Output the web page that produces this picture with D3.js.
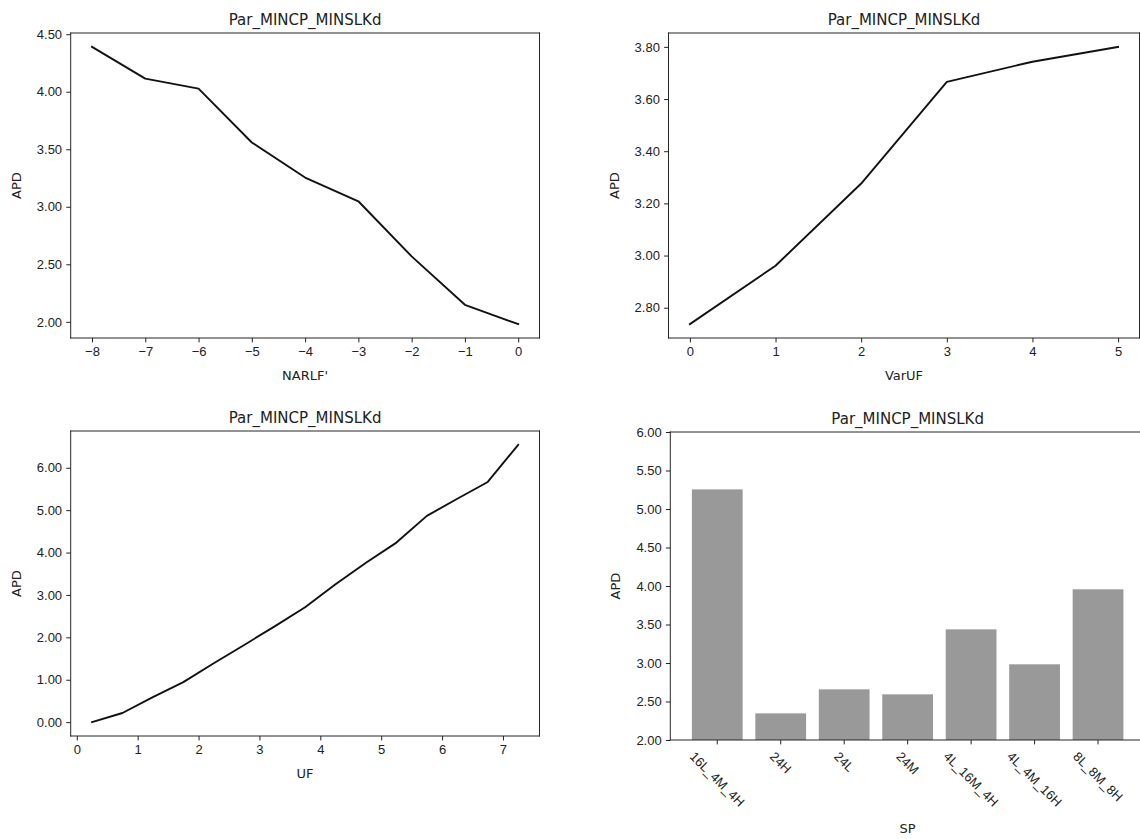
<!DOCTYPE html>
<html>
<head>
<meta charset="utf-8">
<script src="https://cdn.jsdelivr.net/npm/d3@7"></script>
<style>
  body { margin: 0; background: #fff; }
  svg { display: block; font-family: "DejaVu Sans", sans-serif; }
</style>
</head>
<body>
<svg id="fig" width="1140" height="839"></svg>
<script>
const chartTitle = "Par_MINCP_MINSLKd";
const yName = "APD";

// top left: NARLF'
const narlf = [-8, -7, -6, -5, -4, -3, -2, -1, 0];
const apdNarlf = [4.39, 4.114, 4.027, 3.559, 3.254, 3.048, 2.569, 2.148, 1.98];
const narlfTicks = [-8, -7, -6, -5, -4, -3, -2, -1, 0];
const narlfYTicks = [2.0, 2.5, 3.0, 3.5, 4.0, 4.5];

// top right: VarUF
const varuf = [0, 1, 2, 3, 4, 5];
const apdVaruf = [2.737, 2.961, 3.276, 3.666, 3.743, 3.80];
const varufTicks = [0, 1, 2, 3, 4, 5];
const varufYTicks = [2.8, 3.0, 3.2, 3.4, 3.6, 3.8];

// bottom left: UF
const uf = [0.25, 0.75, 1.25, 1.75, 2.25, 2.75, 3.25, 3.75, 4.25, 4.75, 5.25, 5.75, 6.25, 6.75, 7.25];
const apdUf = [0.0, 0.215, 0.59, 0.945, 1.39, 1.82, 2.26, 2.71, 3.25, 3.76, 4.235, 4.865, 5.27, 5.665, 6.54];
const ufTicks = [0, 1, 2, 3, 4, 5, 6, 7];
const ufYTicks = [0, 1, 2, 3, 4, 5, 6];

// bottom right: SP (bars)
const sp = ["16L_4M_4H", "24H", "24L", "24M", "4L_16M_4H", "4L_4M_16H", "8L_8M_8H"];
const apdSp = [5.255, 2.346, 2.658, 2.593, 3.437, 2.983, 3.957];
const spYTicks = [2.0, 2.5, 3.0, 3.5, 4.0, 4.5, 5.0, 5.5, 6.0];
const spYRange = [2, 6];

const svg = d3.select('#fig');
const fmt2 = d3.format('.2f');
const TICK = 4.4, PAD = 4.2;
const FS = 13;
const textColor = '#222';

// matplotlib style 5% margins
function withMargin(ext) {
  const m = (ext[1] - ext[0]) * 0.05;
  return [ext[0] - m, ext[1] + m];
}

function styleAxis(g) {
  g.select('.domain').remove();
  g.selectAll('.tick line').attr('stroke', textColor).attr('stroke-width', 1);
  g.selectAll('.tick text').attr('fill', textColor).style('font-size', FS + 'px');
}

function decorate(box, xName, bottomGap, spines) {
  const s = spines || ['top', 'right', 'bottom', 'left'];
  const seg = {
    top: [box.left, box.top, box.right, box.top],
    right: [box.right, box.top, box.right, box.bottom],
    bottom: [box.left, box.bottom, box.right, box.bottom],
    left: [box.left, box.top, box.left, box.bottom]
  };
  s.forEach(k => {
    const p = seg[k];
    svg.append('line')
      .attr('x1', p[0]).attr('y1', p[1]).attr('x2', p[2]).attr('y2', p[3])
      .attr('stroke', '#262626').attr('stroke-width', 1)
      .attr('stroke-linecap', 'square');
  });

  svg.append('text')
    .attr('x', (box.left + box.right) / 2).attr('y', box.top - 8)
    .attr('text-anchor', 'middle').attr('fill', textColor)
    .style('font-size', '15px').text(chartTitle);

  svg.append('text')
    .attr('x', (box.left + box.right) / 2).attr('y', box.bottom + bottomGap)
    .attr('text-anchor', 'middle').attr('fill', textColor)
    .style('font-size', FS + 'px').text(xName);

  const cy = (box.top + box.bottom) / 2;
  svg.append('text')
    .attr('transform', `translate(${box.left - 50},${cy}) rotate(-90)`)
    .attr('text-anchor', 'middle').attr('fill', textColor)
    .style('font-size', FS + 'px').text(yName);
}

function linePanel(box, xs, ys, xTicks, yTicks, xName) {
  const x = d3.scaleLinear().domain(withMargin(d3.extent(xs))).range([box.left, box.right]);
  const y = d3.scaleLinear().domain(withMargin(d3.extent(ys))).range([box.bottom, box.top]);

  const gx = svg.append('g').attr('transform', `translate(0,${box.bottom})`)
    .call(d3.axisBottom(x).tickValues(xTicks).tickSize(TICK).tickPadding(PAD).tickFormat(d3.format('d')));
  styleAxis(gx);

  const gy = svg.append('g').attr('transform', `translate(${box.left},0)`)
    .call(d3.axisLeft(y).tickValues(yTicks).tickSize(TICK).tickPadding(PAD).tickFormat(fmt2));
  styleAxis(gy);

  const pts = xs.map((d, i) => [d, ys[i]]);
  svg.append('path')
    .datum(pts)
    .attr('fill', 'none')
    .attr('stroke', '#111')
    .attr('stroke-width', 1.9)
    .attr('stroke-linejoin', 'round')
    .attr('stroke-linecap', 'square')
    .attr('d', d3.line().x(d => x(d[0])).y(d => y(d[1])));

  decorate(box, xName, 42);
}

function barPanel(box) {
  const x = d3.scaleBand().domain(sp).range([box.left, box.right])
    .paddingInner(0.2).paddingOuter(0.34);
  const y = d3.scaleLinear().domain(spYRange).range([box.bottom, box.top]);

  svg.append('g').selectAll('rect')
    .data(sp)
    .join('rect')
    .attr('x', d => x(d))
    .attr('width', x.bandwidth())
    .attr('y', (d, i) => y(apdSp[i]))
    .attr('height', (d, i) => y(spYRange[0]) - y(apdSp[i]))
    .attr('fill', '#999999');

  const gy = svg.append('g').attr('transform', `translate(${box.left},0)`)
    .call(d3.axisLeft(y).tickValues(spYTicks).tickSize(TICK).tickPadding(PAD).tickFormat(fmt2));
  styleAxis(gy);

  const gx = svg.append('g').attr('transform', `translate(0,${box.bottom})`)
    .call(d3.axisBottom(x).tickSize(TICK).tickPadding(PAD));
  styleAxis(gx);

  // rotate labels 45deg, centred under tick like matplotlib ha='center'
  gx.selectAll('.tick text').each(function () {
    const t = d3.select(this);
    const L = this.getComputedTextLength();
    const h = FS * 0.9;
    const half = (L + h) * Math.SQRT1_2 / 2;
    const top = TICK + 5.5;
    t.attr('y', null).attr('dy', '0.35em').attr('x', null)
      .attr('text-anchor', 'middle')
      .attr('transform', `translate(0,${top + half}) rotate(45)`);
  });

  decorate(box, 'SP', 93, ['top', 'bottom', 'left']);
}

linePanel({ left: 70.7, right: 539.5, top: 33, bottom: 338 }, narlf, apdNarlf, narlfTicks, narlfYTicks, "NARLF'");
linePanel({ left: 668.5, right: 1139.5, top: 33, bottom: 338 }, varuf, apdVaruf, varufTicks, varufYTicks, 'VarUF');
linePanel({ left: 70.7, right: 539.5, top: 431, bottom: 736 }, uf, apdUf, ufTicks, ufYTicks, 'UF');
barPanel({ left: 670.3, right: 1145, top: 432, bottom: 740 });
</script>
</body>
</html>
